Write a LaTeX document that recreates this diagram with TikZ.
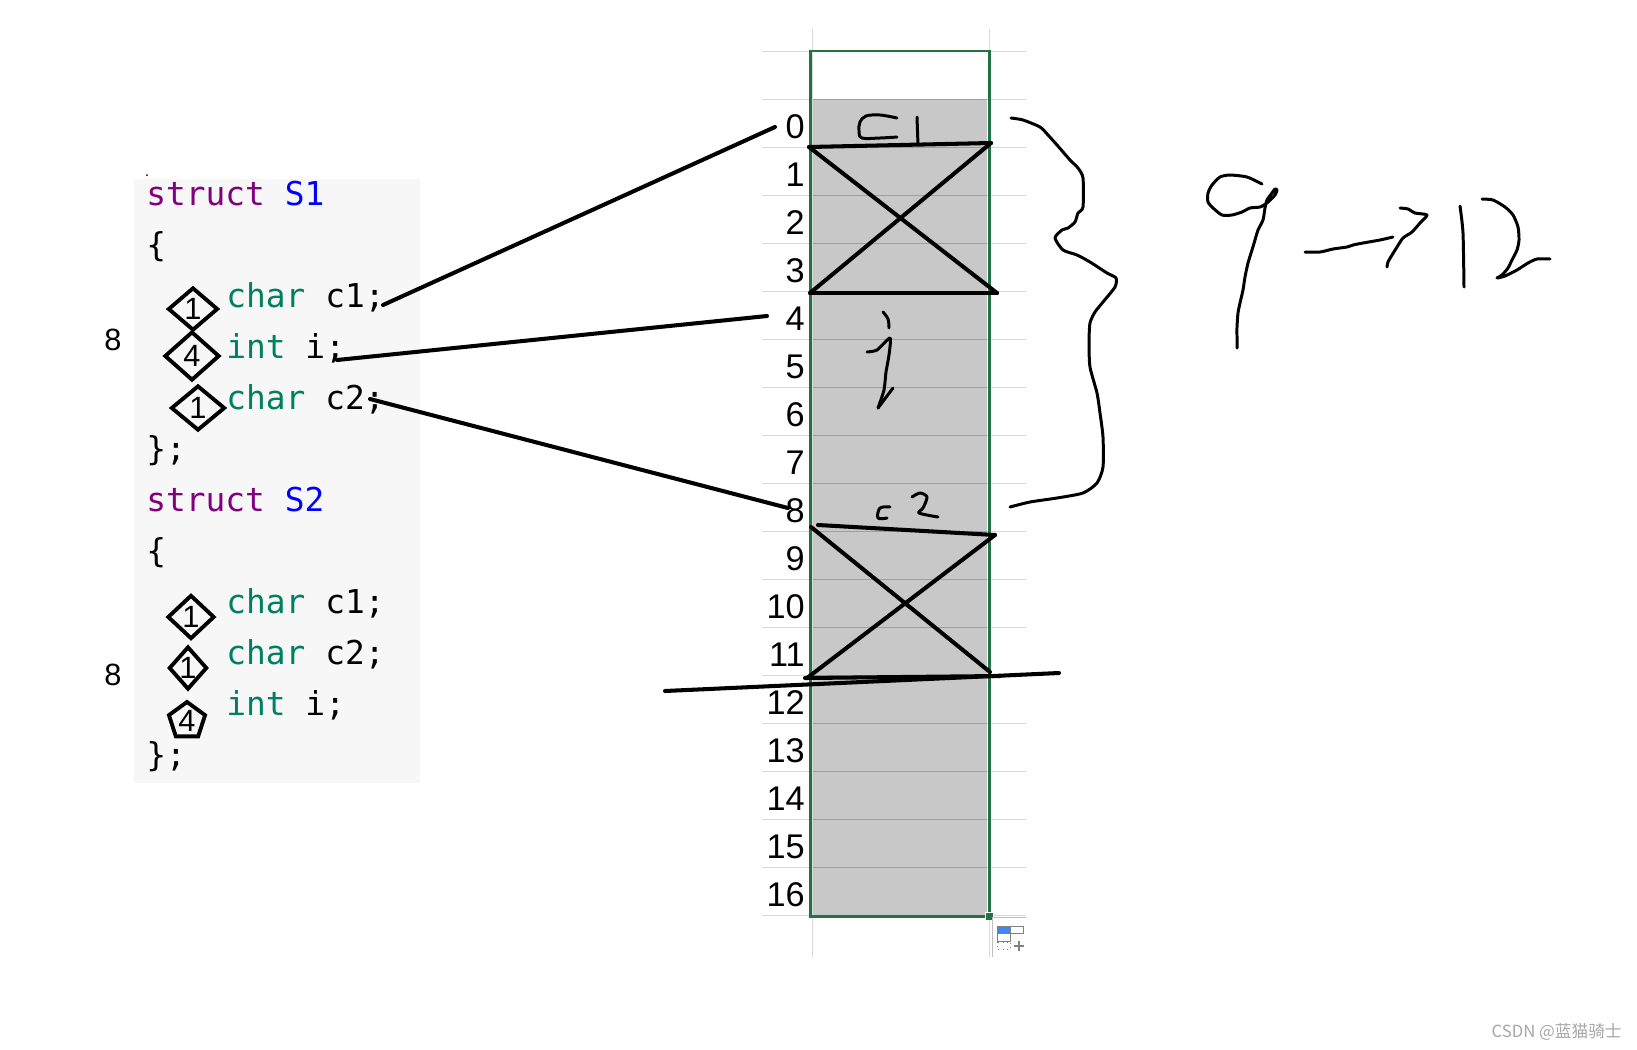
\documentclass[tikz,border=0pt]{standalone}
\usepackage{fontspec}
\usetikzlibrary{shapes.geometric}
\newfontfamily\codefont{DejaVu Sans Mono}
\newfontfamily\numfont{Liberation Sans}
\newfontfamily\cjkfont{Noto Sans CJK SC}
\definecolor{kwpurple}{RGB}{128,0,128}
\definecolor{nameblue}{RGB}{0,0,255}
\definecolor{typegreen}{RGB}{0,128,96}
\definecolor{xlgreen}{RGB}{33,115,70}
\definecolor{cellgray}{RGB}{200,200,200}
\definecolor{gridgray}{RGB}{217,217,217}
\definecolor{codebg}{RGB}{247,247,247}
\definecolor{iconblue}{RGB}{66,133,244}

\tikzset{
  ink/.style={line width=2.3pt, line cap=round, line join=round},
  pen/.style={line width=1.7pt, line cap=round, line join=round},
  codeline/.style={anchor=base west, inner sep=0pt, font=\codefont\fontsize{18.7}{22}\selectfont},
  rowlab/.style={anchor=base east, inner sep=0pt, font=\numfont\fontsize{19.5}{22}\selectfont},
  sizebox/.style={draw, shape=diamond, line width=2.2pt, inner sep=0pt, font=\numfont\fontsize{17.5}{19}\selectfont},
}

\begin{document}
\begin{tikzpicture}[x=0.02cm, y=-0.02cm]
    \useasboundingbox (0,0) rectangle (1637,1049);

    % Memory column: grid, shaded cells, selection frame
    \draw[gridgray] (762,51) -- (1026,51);
    \foreach \k in {0,...,17}
        \draw[gridgray] (762,{99+48*\k}) -- (1026,{99+48*\k});
    \draw[gridgray] (812,29) -- (812,957);
    \draw[gridgray] (989,29) -- (989,957);
    \fill[cellgray] (813,99) rectangle (987,915);
    \foreach \k in {0,...,16}
        \draw[gray!75] (813,{99+48*\k}) -- (987,{99+48*\k});
    \draw[xlgreen, line width=1.7pt] (810,51) rectangle (989,916);
    \fill[xlgreen, draw=white, line width=0.5pt] (985,912) rectangle (993,920);

    % Paste options button
    \draw[gray!50] (992,957) -- (992,917) -- (1026,917);
    \fill[iconblue] (997,926) rectangle (1010,933);
    \draw[gray] (997,926) rectangle (1023,933);
    \draw[gray] (1010,926) -- (1010,933);
    \draw[gray] (997,933) rectangle (1010,941);
    \draw[gray, dotted] (997,942) rectangle (1010,949);
    \draw[gray, line width=1.5pt] (1014,946) -- (1024,946) (1019,941) -- (1019,951);

    % Byte offsets
    \foreach \k in {0,...,16}
        \node[rowlab] (r\k) at (805,{138+48*\k}) {\k};

    % Code panel
    \fill[codebg] (134,179) rectangle (420,783);
    \fill (147,175) circle (1);
    \node[codeline] (s1head) at (146,205) {\textcolor{kwpurple}{struct} \textcolor{nameblue}{S1}};
    \node[codeline] (s1open) at (146,256) {\{};
    \node[codeline] (s1c1) at (226,307) {\textcolor{typegreen}{char} c1;};
    \node[codeline] (s1i) at (226,358) {\textcolor{typegreen}{int} i;};
    \node[codeline] (s1c2) at (226,409) {\textcolor{typegreen}{char} c2;};
    \node[codeline] (s1close) at (146,460) {\};};
    \node[codeline] (s2head) at (146,511) {\textcolor{kwpurple}{struct} \textcolor{nameblue}{S2}};
    \node[codeline] (s2open) at (146,562) {\{};
    \node[codeline] (s2c1) at (226,613) {\textcolor{typegreen}{char} c1;};
    \node[codeline] (s2c2) at (226,664) {\textcolor{typegreen}{char} c2;};
    \node[codeline] (s2i) at (226,715) {\textcolor{typegreen}{int} i;};
    \node[codeline] (s2close) at (146,766) {\};};

    % Total sizes
    \node[font=\numfont\fontsize{17.5}{19}\selectfont] (s1size) at (113,340) {8};
    \node[font=\numfont\fontsize{17.5}{19}\selectfont] (s2size) at (113,675) {8};

    % Member sizes
    \node[sizebox, minimum width=1.0cm, minimum height=0.86cm] (d1) at (193,309) {1};
    \node[sizebox, minimum width=1.1cm, minimum height=0.98cm] (d2) at (192,356) {4};
    \node[sizebox, minimum width=1.08cm, minimum height=0.9cm] (d3) at (198,408) {1};
    \node[sizebox, minimum width=0.94cm, minimum height=0.88cm] (e1) at (191,617) {1};
    \node[sizebox, minimum width=0.6cm, minimum height=0.86cm] (e2) at (188,668) {1};
    \node[draw, regular polygon, regular polygon sides=5, minimum size=0.76cm, line width=2.2pt,
          inner sep=0pt, font=\numfont\fontsize{17.5}{19}\selectfont] (e3) at (187,721) {4};

    % Connectors from members to offsets
    \coordinate (s1c1out) at (383,305);
    \coordinate (s1iout) at (337,360);
    \coordinate (s1c2out) at (370,399);
    \coordinate (r0in) at (775,127);
    \coordinate (r4in) at (767,316);
    \coordinate (r8in) at (788,508);
    \draw[ink] (s1c1out) -- (r0in);
    \draw[ink] (s1iout) -- (r4in);
    \draw[ink] (s1c2out) -- (r8in);

    % Padding crosses
    \draw[ink] (809,147) -- (991,143);
    \draw[ink] (810,293) -- (997,293);
    \draw[ink] (809,147) -- (997,293);
    \draw[ink] (991,143) -- (810,293);
    \draw[ink] (818,525) -- (995,535);
    \draw[ink] (811,527) -- (990,672);
    \draw[ink] (995,535) -- (807,678);
    \draw[ink] (665,691) -- (1059,673);
    \draw[ink] (805,678) -- (1000,676);

    % Handwritten cell notes
    \draw[pen] plot[smooth, tension=0.6] coordinates {(897,118) (880,115) (866,116) (860,122) (859,131) (862,138) (880,138) (897,137)};
    \draw[pen] (917,117) -- (918,145);
    \draw[pen] plot[smooth, tension=0.6] coordinates {(883,312) (888,319) (889,328)};
    \draw[pen] plot[smooth, tension=0.4] coordinates {(867,352) (877,350) (890,338) (889,355) (886,372) (884,390) (878,408)};
    \draw[pen] (878,408) -- (884,400) -- (893,388);
    \draw[pen] plot[smooth, tension=0.6] coordinates {(890,507) (880,508) (878,518) (887,518)};
    \draw[pen] plot[smooth, tension=0.5] coordinates {(912,497) (920,493) (927,497) (923,508) (919,513) (938,517)};

    % Brace over the whole layout
    \draw[pen] plot[smooth, tension=0.4] coordinates {(1011,118) (1023,120) (1040,127) (1048,135) (1057,145)
        (1070,160) (1078,168) (1083,178) (1083,207) (1078,213) (1075,222) (1068,228) (1062,230) (1055,238)
        (1063,250) (1077,255) (1090,262) (1107,273) (1116,278) (1115,287) (1103,302) (1095,312) (1090,323)
        (1089,343) (1090,367) (1097,393) (1100,413) (1103,437) (1103,467) (1097,483) (1083,493) (1057,498)
        (1030,502) (1010,507)};

    % 9 -> 12
    \draw[pen] plot[smooth, tension=0.4] coordinates {(1262,184) (1247,177) (1230,175) (1220,177) (1212,185)
        (1208,193) (1208,202) (1213,208) (1222,215) (1232,215) (1242,212) (1250,208) (1260,207) (1267,203)
        (1275,195) (1277,190) (1275,189) (1272,193) (1267,200) (1265,208) (1263,220) (1258,230) (1255,240)
        (1252,250) (1248,263) (1245,277) (1243,290) (1240,303) (1238,313) (1237,327) (1237,337) (1237,348)};
    \draw[pen] plot[smooth, tension=0.4] coordinates {(1305,252) (1320,252) (1333,249) (1347,247) (1353,245)
        (1363,243) (1380,240) (1393,237)};
    \draw[pen] plot[smooth, tension=0.4] coordinates {(1400,208) (1408,209) (1415,213) (1427,215) (1420,223)
        (1412,232) (1403,238) (1397,247) (1392,255) (1388,262) (1387,267)};
    \draw[pen] plot[smooth, tension=0.4] coordinates {(1460,206) (1463,233) (1464,287)};
    \draw[pen] plot[smooth, tension=0.4] coordinates {(1482,199) (1493,200) (1505,207) (1513,215) (1518,227)
        (1519,240) (1517,250) (1512,260) (1508,268) (1502,275) (1497,278) (1505,276) (1517,270) (1528,263)
        (1537,259) (1550,259)};

    % Watermark
    \node[anchor=east, inner sep=0pt, text=gray!70, font=\cjkfont\fontsize{9.5}{11}\selectfont] (mark) at (1622,1032) {CSDN @蓝猫骑士};
\end{tikzpicture}
\end{document}
